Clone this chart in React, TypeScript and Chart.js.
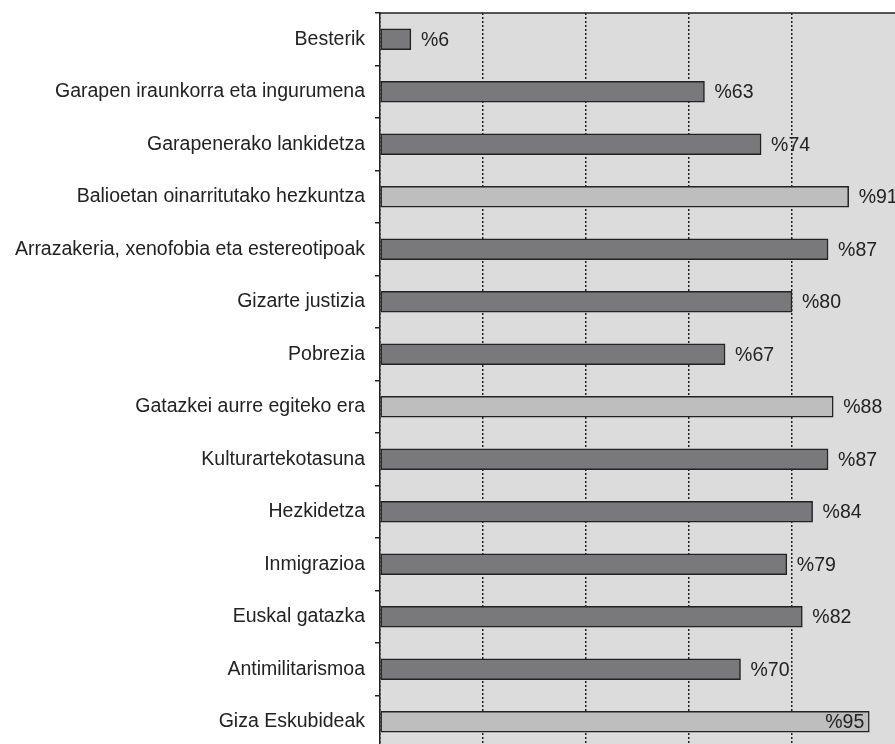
import React, { useEffect, useRef } from "react";
import { Chart, registerables } from "chart.js";

Chart.register(...registerables);

const categories = [
  "Besterik",
  "Garapen iraunkorra eta ingurumena",
  "Garapenerako lankidetza",
  "Balioetan oinarritutako hezkuntza",
  "Arrazakeria, xenofobia eta estereotipoak",
  "Gizarte justizia",
  "Pobrezia",
  "Gatazkei aurre egiteko era",
  "Kulturartekotasuna",
  "Hezkidetza",
  "Inmigrazioa",
  "Euskal gatazka",
  "Antimilitarismoa",
  "Giza Eskubideak",
];
const values = [6, 63, 74, 91, 87, 80, 67, 88, 87, 84, 79, 82, 70, 95];
const highlighted = [false, false, false, true, false, false, false, true, false, false, false, false, false, true];

const DARK = "#79797b";
const LIGHT = "#bebebf";
const BG = "#dcdcdc";
const INK = "#222222";
const FONT = "Liberation Sans, Arial, sans-serif";
const FS = 19.5;

export default function App() {
  const ref = useRef<HTMLCanvasElement | null>(null);
  useEffect(() => {
    if (!ref.current) return;
    const bgPlugin = {
      id: "bg",
      beforeDraw(chart: any) {
        const { ctx, chartArea } = chart;
        ctx.save();
        ctx.fillStyle = BG;
        ctx.fillRect(chartArea.left, chartArea.top, chartArea.right - chartArea.left, chartArea.bottom - chartArea.top);
        ctx.restore();
      },
      afterDraw(chart: any) {
        const { ctx, chartArea } = chart;
        ctx.save();
        ctx.strokeStyle = INK;
        ctx.lineWidth = 1.5;
        ctx.beginPath();
        ctx.moveTo(chartArea.left, chartArea.top);
        ctx.lineTo(chartArea.right, chartArea.top);
        ctx.stroke();
        ctx.restore();
      },
    };
    const labelPlugin = {
      id: "vlabels",
      afterDatasetsDraw(chart: any) {
        const { ctx } = chart;
        const meta = chart.getDatasetMeta(0);
        ctx.save();
        ctx.font = `${FS}px ${FONT}`;
        ctx.fillStyle = INK;
        ctx.textBaseline = "middle";
        meta.data.forEach((bar: any, i: number) => {
          const txt = "%" + values[i];
          const w = ctx.measureText(txt).width;
          if (bar.x + 10 + w > chart.chartArea.right + 8) {
            ctx.textAlign = "right";
            ctx.fillText(txt, bar.x - 5, bar.y + 1);
          } else {
            ctx.textAlign = "left";
            ctx.fillText(txt, bar.x + 10, bar.y + 1);
          }
        });
        ctx.restore();
      },
    };
    const chart = new Chart(ref.current, {
      type: "bar",
      data: {
        labels: categories,
        datasets: [
          {
            data: values,
            backgroundColor: highlighted.map((h) => (h ? LIGHT : DARK)),
            borderColor: INK,
            borderWidth: 1.5,
            borderSkipped: false,
            barThickness: 21,
          },
        ],
      },
      options: {
        indexAxis: "y",
        responsive: false,
        animation: false,
        layout: { padding: { top: 13, bottom: 12, left: 0, right: 0 } },
        plugins: { legend: { display: false }, tooltip: { enabled: false } },
        scales: {
          x: {
            min: 0,
            max: 100,
            ticks: { display: false, stepSize: 20 },
            border: { display: false, dash: [2, 2] },
            grid: {
              color: (c: any) => (c.tick && c.tick.value === 100 ? "rgba(0,0,0,0)" : INK),
              lineWidth: 1.5,
              drawTicks: false,
            },
            afterFit: (s: any) => {
              s.height = 0;
              s.paddingLeft = 0;
              s.paddingRight = 0;
            },
          } as any,
          y: {
            border: { display: true, color: INK, width: 1.5 },
            grid: {
              drawOnChartArea: false,
              drawTicks: true,
              tickLength: 5,
              color: INK,
              lineWidth: 1.5,
              offset: true,
            },
            ticks: {
              color: INK,
              padding: 10,
              font: { family: FONT, size: FS },
            },
            afterFit: (s: any) => {
              s.width = 380;
              s.paddingTop = 0;
              s.paddingBottom = 0;
            },
          },
        },
      },
      plugins: [bgPlugin, labelPlugin],
    });
    return () => chart.destroy();
  }, []);
  return (
    <div style={{ position: "fixed", left: 0, top: 0, width: 895, height: 744, overflow: "hidden", background: "#fff" }}>
      <canvas ref={ref} width={895} height={760} style={{ display: "block", width: 895, height: 760 }} />
    </div>
  );
}
